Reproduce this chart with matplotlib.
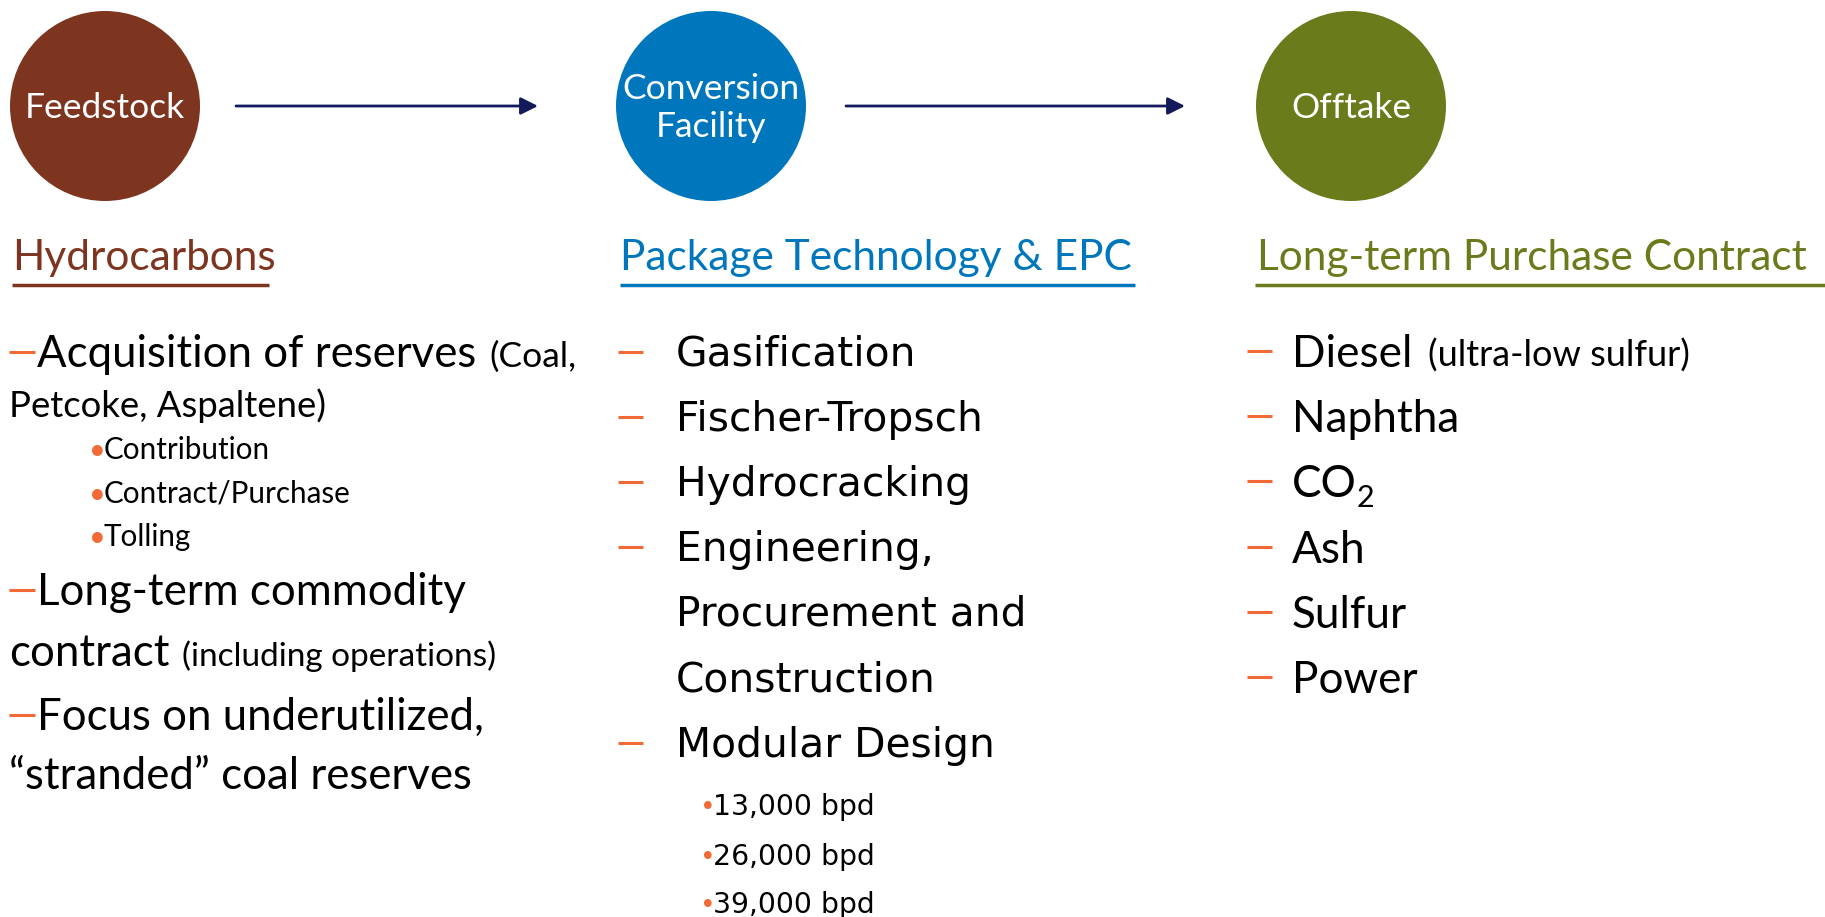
import matplotlib.pyplot as plt
from matplotlib.patches import Circle

# =============================================================================
# Text content of the three stages
# =============================================================================
stage_names = ["Feedstock", "Conversion\nFacility", "Offtake"]
stage_headers = ["Hydrocarbons", "Package Technology & EPC", "Long-term Purchase Contract"]
stage_colors = ["#7E3520", "#0077BD", "#6A7B1C"]

# (kind, main text, small trailing text)
feedstock_lines = [
    ("dash", "Acquisition of reserves", "(Coal,"),
    ("small", "Petcoke, Aspaltene)", ""),
    ("bullet", "Contribution", ""),
    ("bullet", "Contract/Purchase", ""),
    ("bullet", "Tolling", ""),
    ("dash", "Long-term commodity", ""),
    ("cont", "contract", "(including operations)"),
    ("dash", "Focus on underutilized,", ""),
    ("cont", "\u201cstranded\u201d coal reserves", ""),
]
tech_lines = [
    ("dash", "Gasification"),
    ("dash", "Fischer-Tropsch"),
    ("dash", "Hydrocracking"),
    ("dash", "Engineering,"),
    ("cont", "Procurement and"),
    ("cont", "Construction"),
    ("dash", "Modular Design"),
    ("bullet", "13,000 bpd"),
    ("bullet", "26,000 bpd"),
    ("bullet", "39,000 bpd"),
]
offtake_lines = ["Diesel", "Naphtha", "CO", "Ash", "Sulfur", "Power"]
offtake_notes = {"Diesel": "(ultra-low sulfur)"}
offtake_subscripts = {"CO": "2"}

# layout (pixels)
W, H = 1825, 917
circle_x = [105, 711, 1351]
circle_y = 106
circle_r = 95
arrow_spans = [(236, 538), (846, 1185)]
header_x = [12, 620, 1257]
header_base = 270
underline_y = 285
underline_spans = [(12, 269), (620, 1135), (1255, 1825)]
left_base = [367, 417, 459, 503, 546, 605, 666, 730, 789]
mid_base = [366, 431, 496, 561, 626, 692, 757, 815, 865, 913]
right_base = [367, 432, 497, 563, 628, 693]

orange = "#F26A36"
navy = "#131A5C"
narrow = "Lato"
wide = "DejaVu Sans"

fig = plt.figure(figsize=(W / 100, H / 100), dpi=100)
ax = fig.add_axes([0, 0, 1, 1])
ax.set_xlim(0, W)
ax.set_ylim(H, 0)
ax.axis('off')
renderer = fig.canvas.get_renderer()


def after(t, gap):
    bb = t.get_window_extent(renderer)
    return ax.transData.inverted().transform((bb.x1, 0))[0] + gap


def dash(x0, x1, y):
    ax.plot([x0, x1], [y, y], color=orange, lw=2.2, solid_capstyle='butt')


# circles, arrows, headers
for i in range(3):
    ax.add_patch(Circle((circle_x[i], circle_y), circle_r, color=stage_colors[i], lw=0))
    ax.text(circle_x[i], circle_y + 2, stage_names[i], color='white', fontsize=25.5, family=narrow,
            ha='center', va='center', linespacing=1.25)
    ax.text(header_x[i], header_base, stage_headers[i], color=stage_colors[i], fontsize=30.5,
            family=narrow, ha='left', va='baseline')
    ax.plot(underline_spans[i], [underline_y, underline_y], color=stage_colors[i], lw=2.5,
            solid_capstyle='butt')

for x0, x1 in arrow_spans:
    ax.annotate('', xy=(x1, circle_y), xytext=(x0, circle_y),
                arrowprops=dict(arrowstyle='-|>', color=navy, lw=2, mutation_scale=26,
                                shrinkA=0, shrinkB=0))

# left column
for (kind, main, small), yb in zip(feedstock_lines, left_base):
    if kind == "dash":
        dash(9, 35, yb - 15)
        t = ax.text(37, yb, main, fontsize=31.5, family=narrow, va='baseline')
    elif kind == "cont":
        t = ax.text(9, yb, main, fontsize=31.5, family=narrow, va='baseline')
    elif kind == "small":
        t = ax.text(9, yb, main, fontsize=26.3, family=narrow, va='baseline')
    else:
        ax.text(89, yb, "\u2022", color=orange, fontsize=21, family=narrow, va='baseline')
        t = ax.text(104, yb, main, fontsize=21.3, family=narrow, va='baseline')
    if small:
        size = 25.5 if kind == "dash" else 24
        ax.text(after(t, 13), yb, small, fontsize=size, family=narrow, va='baseline')

# middle column
for (kind, main), yb in zip(tech_lines, mid_base):
    if kind == "dash":
        dash(618, 643, yb - 14)
    if kind == "bullet":
        ax.text(700, yb, "\u2022", color=orange, fontsize=19, family=wide, va='baseline')
        ax.text(713, yb, main, fontsize=20.3, family=wide, va='baseline')
    else:
        ax.text(676, yb, main, fontsize=29.3, family=wide, va='baseline')

# right column
for name, yb in zip(offtake_lines, right_base):
    dash(1247, 1272, yb - 16)
    t = ax.text(1292, yb, name, fontsize=31.8, family=narrow, va='baseline')
    if name in offtake_notes:
        ax.text(after(t, 16), yb, offtake_notes[name], fontsize=26, family=narrow, va='baseline')
    if name in offtake_subscripts:
        ax.text(after(t, 0), yb + 10, offtake_subscripts[name], fontsize=22, family=narrow,
                va='baseline')

fig.savefig('out.png', dpi=100)
